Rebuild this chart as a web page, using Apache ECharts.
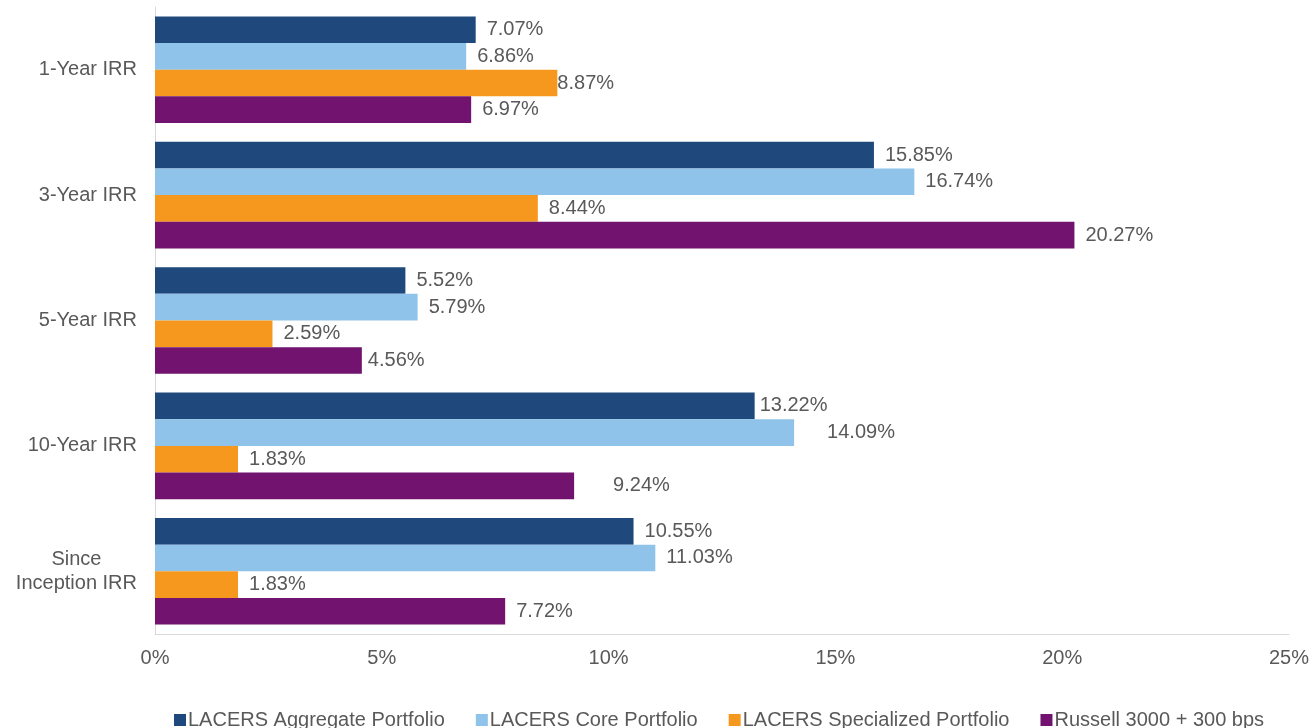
<!DOCTYPE html>
<html>
<head>
<meta charset="utf-8">
<title>IRR comparison</title>
<script src="https://cdn.jsdelivr.net/npm/echarts@6/dist/echarts.min.js"></script>
<style>
  html, body { margin: 0; padding: 0; background: #fff; }
  #chart { width: 1312px; height: 728px; }
</style>
</head>
<body>
<div id="chart"></div>
<script>
// categories, top to bottom
var categories = ['1-Year IRR', '3-Year IRR', '5-Year IRR', '10-Year IRR', 'Since\nInception IRR']
var seriesNames = ['LACERS Aggregate Portfolio', 'LACERS Core Portfolio', 'LACERS Specialized Portfolio', 'Russell 3000 + 300 bps']
var aggregate = [7.07, 15.85, 5.52, 13.22, 10.55]
var core = [6.86, 16.74, 5.79, 14.09, 11.03]
var specialized = [8.87, 8.44, 2.59, 1.83, 1.83]
var russell = [6.97, 20.27, 4.56, 9.24, 7.72]
var xTicks = [0, 5, 10, 15, 20, 25]

var colors = ['#1f497d', '#8fc3ea', '#f7981e', '#71136f']
var textColor = '#595959'
var font = 'Arial, "Liberation Sans", sans-serif'

// label gap from bar end; a few sit closer / further in the original
var labelGap = 11
var labelGapFix = {
  '2-0': 0,
  '0-3': 5,
  '3-2': 6,
  '1-3': 33,
  '3-3': 39,
}

var chart = echarts.init(document.getElementById('chart'))

var values = [aggregate, core, specialized, russell]

chart.setOption({
  animation: false,
  color: colors,
  textStyle: { fontFamily: font },
  grid: {
    left: 155,
    right: 20,
    top: 7,
    bottom: 94,
  },
  legend: {
    data: seriesNames,
    left: 169,
    top: 705,
    icon: 'rect',
    itemWidth: 12,
    itemHeight: 12,
    itemGap: 31,
    textStyle: { color: textColor, fontSize: 20, fontFamily: font, padding: [0, 0, 0, -3] },
  },
  xAxis: {
    type: 'value',
    min: xTicks[0],
    max: xTicks[xTicks.length - 1],
    interval: 5,
    axisLine: { show: true, lineStyle: { color: '#d9d9d9', width: 1 } },
    axisTick: { show: false },
    splitLine: { show: false },
    axisLabel: {
      color: textColor,
      fontSize: 20,
      margin: 14,
      formatter: v => v + '%',
    },
  },
  yAxis: {
    type: 'category',
    data: categories,
    inverse: true,
    axisLine: { show: true, lineStyle: { color: '#d9d9d9', width: 1 } },
    axisTick: { show: false },
    axisLabel: {
      color: textColor,
      fontSize: 20,
      margin: 18,
      lineHeight: 24,
      formatter: v => '{c|' + v + '}',
      rich: {
        c: { align: 'center', color: textColor, fontSize: 20, lineHeight: 24, fontFamily: font },
      },
    },
  },
  series: seriesNames.map((name, s) => ({
    type: 'bar',
    name: name,
    barCategoryGap: '15%',
    barGap: '0%',
    data: values[s].map((v, i) => {
      var d = labelGapFix[s + '-' + i]
      if (d === undefined) return v
      return { value: v, label: { distance: d } }
    }),
    label: {
      show: true,
      position: 'right',
      distance: labelGap,
      color: textColor,
      fontSize: 20,
      fontFamily: font,
      formatter: p => p.value.toFixed(2) + '%',
    },
  })),
})
</script>
</body>
</html>
